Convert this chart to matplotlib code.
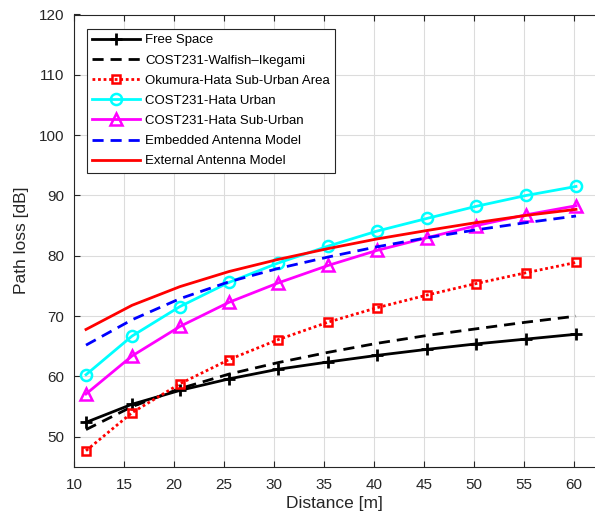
import matplotlib
matplotlib.use('Agg')
import matplotlib.pyplot as plt

plt.rcParams['font.family'] = ['Liberation Sans', 'DejaVu Sans']

# distance [m]
udaljenost = [11.2, 15.8, 20.6, 25.5, 30.4, 35.4, 40.3, 45.3, 50.2, 55.2, 60.2]

free_space = [52.4, 55.4, 57.7, 59.6, 61.2, 62.4, 63.5, 64.5, 65.4, 66.2, 67.0]
walfish = [51.2, 55.0, 58.0, 60.4, 62.3, 64.0, 65.5, 66.8, 67.9, 69.0, 70.0]
okumura = [47.7, 54.0, 58.8, 62.8, 66.1, 69.0, 71.4, 73.5, 75.4, 77.2, 78.9]
hata_urban = [60.3, 66.7, 71.6, 75.6, 78.8, 81.6, 84.1, 86.2, 88.2, 90.0, 91.5]
hata_suburban = [57.1, 63.4, 68.3, 72.3, 75.5, 78.4, 80.9, 83.0, 85.0, 86.8, 88.3]
embedded = [65.2, 69.4, 72.9, 75.7, 77.9, 79.8, 81.5, 83.0, 84.3, 85.5, 86.6]
external = [67.8, 71.8, 74.9, 77.4, 79.4, 81.2, 82.8, 84.2, 85.5, 86.7, 87.7]

nazivi = ['Free Space', 'COST231-Walfish\u2013Ikegami', 'Okumura-Hata Sub-Urban Area',
          'COST231-Hata Urban', 'COST231-Hata Sub-Urban', 'Embedded Antenna Model',
          'External Antenna Model']

fig = plt.figure(figsize=(5.95, 5.22), dpi=100)
ax = fig.add_axes([74 / 595, 55 / 522, 521 / 595, 452.5 / 522])

lw = 2.0
ax.plot(udaljenost, free_space, color='black', lw=lw, marker='+', ms=8, mew=2, label=nazivi[0])
ax.plot(udaljenost, walfish, color='black', lw=lw, ls=(0, (4, 2.5)), label=nazivi[1])
ax.plot(udaljenost, okumura, color='red', lw=lw, ls=(0, (1, 1)), marker='s', ms=6,
        mfc='none', mew=1.8, label=nazivi[2])
ax.plot(udaljenost, hata_urban, color='cyan', lw=lw, marker='o', ms=8, mfc='none',
        mew=1.8, label=nazivi[3])
ax.plot(udaljenost, hata_suburban, color='magenta', lw=lw, marker='^', ms=9, mfc='none',
        mew=1.8, label=nazivi[4])
ax.plot(udaljenost, embedded, color='blue', lw=lw, ls=(0, (4, 2.5)), label=nazivi[5])
ax.plot(udaljenost, external, color='red', lw=lw, label=nazivi[6])

ax.set_xlim(10, 62.1)
ax.set_ylim(45, 120)
ax.set_xticks(range(10, 61, 5))
ax.set_yticks(range(50, 121, 10))
ax.grid(True, color='#dcdcdc', lw=0.8)
ax.set_axisbelow(True)
ax.tick_params(direction='in', length=4, width=0.8, colors='#262626', labelsize=11,
               top=True, right=False)
ax.tick_params(axis='x', pad=8)
ax.tick_params(axis='y', pad=7)
for s in ['left', 'bottom', 'top']:
    ax.spines[s].set_color('#262626')
    ax.spines[s].set_linewidth(0.8)
ax.spines['right'].set_visible(False)

ax.set_xlabel('Distance [m]', fontsize=12.5, color='#262626', labelpad=3)
ax.set_ylabel('Path loss [dB]', fontsize=12.5, color='#262626', labelpad=7)

leg = ax.legend(loc='upper left', bbox_to_anchor=(0.025, 0.968), fontsize=9.5,
                handlelength=3.6, frameon=True, fancybox=False, borderaxespad=0,
                labelspacing=0.6, borderpad=0.4, handletextpad=0.4)
leg.get_frame().set_edgecolor('#262626')
leg.get_frame().set_linewidth(0.8)
leg.get_frame().set_alpha(1)

plt.savefig('out.png', dpi=100)
